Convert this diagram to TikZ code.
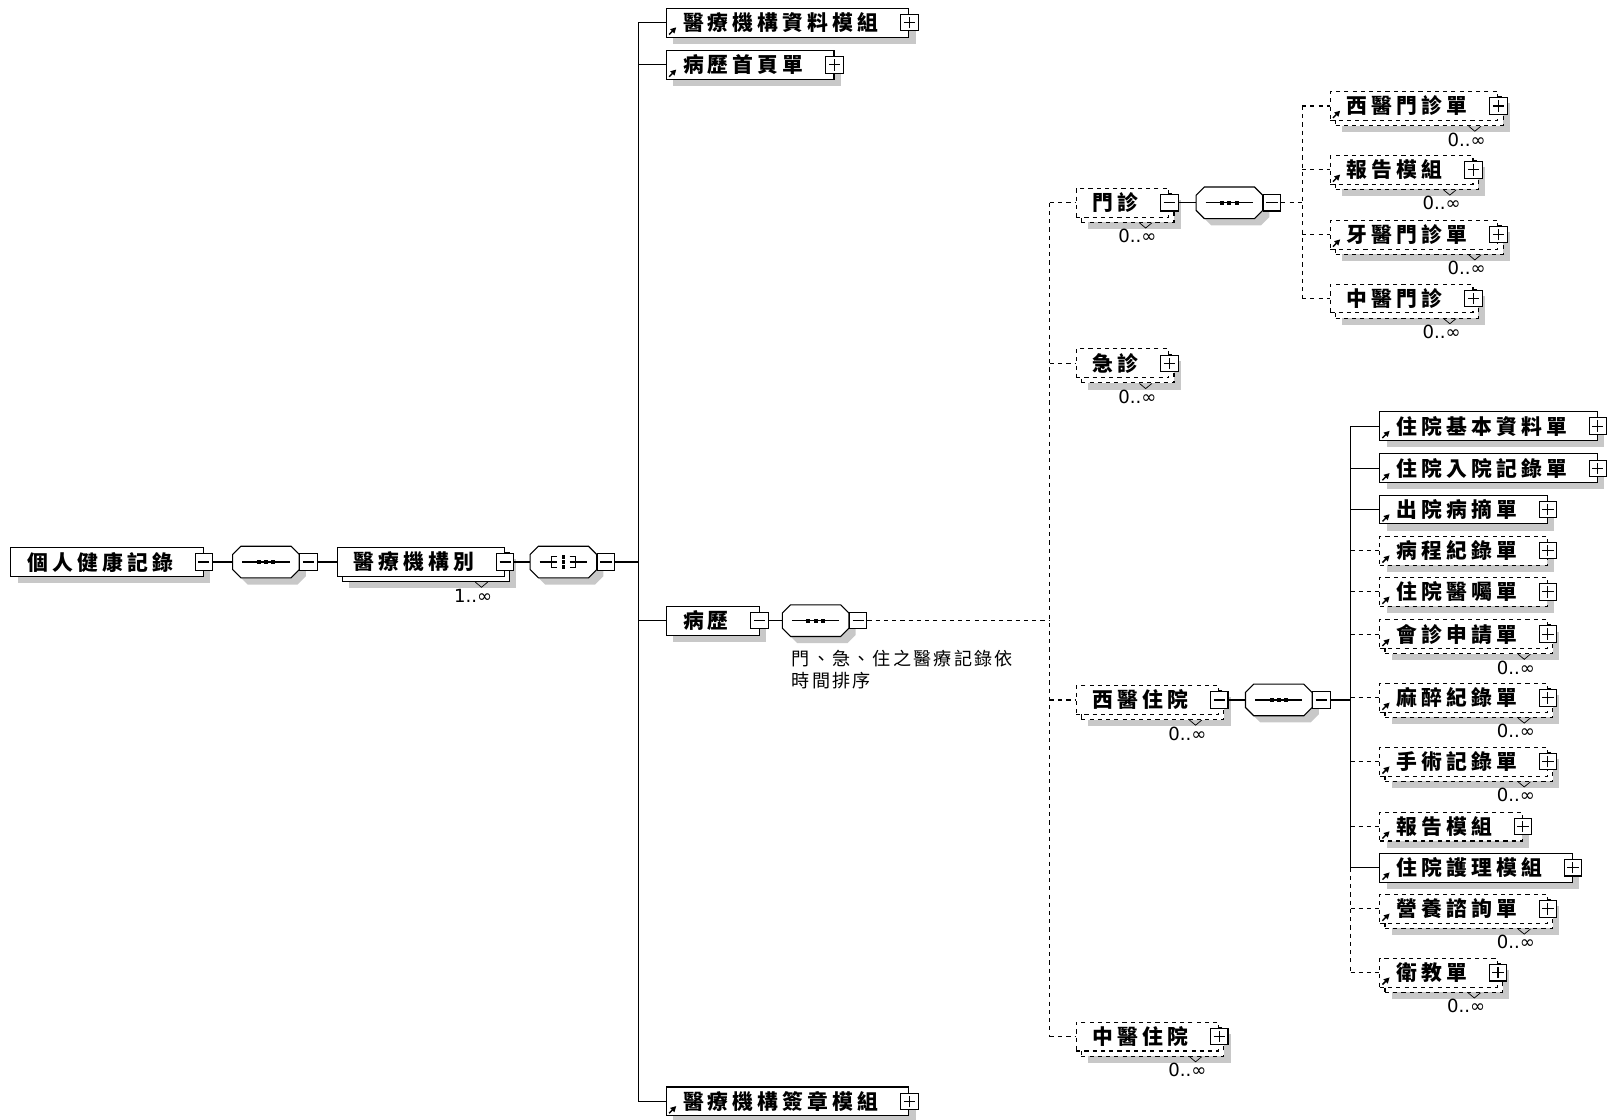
\documentclass[tikz,border=0pt]{standalone}
\usepackage{fontspec}
\newfontfamily\cjkbold{Noto Sans CJK TC}[LetterSpace=20]
\newfontfamily\cjknote{Noto Sans CJK TC}[LetterSpace=12]
\newfontfamily\multfont{DejaVu Sans}
\usetikzlibrary{positioning,arrows.meta,shadows}
\definecolor{ShadowGray}{RGB}{200,200,200}
\tikzset{
  wire/.style={line width=.6pt},
  owire/.style={wire,dash pattern=on .8mm off .8mm},
  el/.style={draw,line width=.6pt,fill=white,anchor=west,minimum height=5.6mm,
    inner ysep=0pt,inner xsep=3.2mm,execute at end node={\hspace{2.7mm}},
    font=\cjkbold\bfseries\fontsize{11.5}{13}\selectfont},
  one/.style={el,general shadow={shadow xshift=1.3mm,shadow yshift=-1.3mm,fill=ShadowGray}},
  oneopt/.style={one,dash pattern=on .8mm off .8mm},
  many/.style={el,general shadow={shadow xshift=2.3mm,shadow yshift=-2.3mm,fill=ShadowGray},
    general shadow={shadow xshift=1mm,shadow yshift=-1mm,fill=white,draw=black,line width=.6pt}},
  manyopt/.style={el,dash pattern=on .8mm off .8mm,
    general shadow={shadow xshift=2.3mm,shadow yshift=-2.3mm,fill=ShadowGray},
    general shadow={shadow xshift=1mm,shadow yshift=-1mm,fill=white,draw=black,line width=.6pt,dash pattern=on .8mm off .8mm}},
  grp/.style={rectangle,anchor=west,minimum width=12.8mm,minimum height=6mm,inner sep=0pt},
  grpshadow/.style={fill=ShadowGray,transform canvas={shift={(1.3mm,-1.3mm)}}},
  grpframe/.style={fill=white,draw=black,line width=.6pt},
  tgl/.style={draw,fill=white,line width=.6pt,minimum width=3.4mm,minimum height=3.2mm,inner sep=0pt},
  minusbox/.style={tgl,path picture={
    \draw[line width=.6pt] ([xshift=-1.1mm]path picture bounding box.center) -- ([xshift=1.1mm]path picture bounding box.center);}},
  plusbox/.style={tgl,path picture={
    \draw[line width=.6pt] ([xshift=-1.1mm]path picture bounding box.center) -- ([xshift=1.1mm]path picture bounding box.center)
      ([yshift=-1.1mm]path picture bounding box.center) -- ([yshift=1.1mm]path picture bounding box.center);}},
  refarr/.style={line width=.8pt,-{Triangle[length=1.1mm,width=1.1mm]}},
  notch/.style={line width=.4pt},
  multlbl/.style={font=\multfont\fontsize{10}{12}\selectfont,inner sep=0pt},
  note/.style={font=\cjknote\fontsize{10}{12.5}\selectfont,align=left,inner sep=0pt},
}
% small decorations of the element boxes
\newcommand\refmark[1]{\draw[refarr] ([shift={(3,-3)}]#1.south west) -- ++(7,-7);}
\newcommand\mult[2]{\draw[notch] ([shift={(-29,5)}]#1.south east) -- ++(6,5) -- ++(6,-5);
  \node[multlbl] (#1-m) at ([shift={(-31,18)}]#1.south east) {#2};}
% octagon frame of a group node, with its shadow
\newcommand\octagon[1]{%
  \foreach \st in {grpshadow,grpframe}
    \path[\st] ([xshift=1.6mm]#1.north west) -- ([xshift=-1.6mm]#1.north east) -- ([yshift=-1.6mm]#1.north east)
      -- ([yshift=1.6mm]#1.south east) -- ([xshift=-1.6mm]#1.south east) -- ([xshift=1.6mm]#1.south west)
      -- ([yshift=1.6mm]#1.south west) -- ([yshift=-1.6mm]#1.north west) -- cycle;}
\newcommand\seqicon[1]{\octagon{#1}
  \draw[line width=.6pt] ([xshift=-4.6mm]#1.center) -- ([xshift=4.6mm]#1.center);
  \foreach \dx in {-1.4,0,1.4}
    \fill ([shift={(\dx mm-.4mm,-.4mm)}]#1.center) rectangle ++(.8mm,.8mm);}
\newcommand\choiceicon[1]{\octagon{#1}
  \draw[line width=.6pt] ([xshift=-4.6mm]#1.center) -- ([xshift=-2.4mm]#1.center)
    ([shift={(-1.2mm,1mm)}]#1.center) -- ([shift={(-2.4mm,1mm)}]#1.center) -- ([shift={(-2.4mm,-1mm)}]#1.center) -- ([shift={(-1.2mm,-1mm)}]#1.center)
    ([xshift=-2.4mm]#1.center) -- ([xshift=-1.2mm]#1.center)
    ([shift={(1.2mm,1mm)}]#1.center) -- ([shift={(2.4mm,1mm)}]#1.center) -- ([shift={(2.4mm,-1mm)}]#1.center) -- ([shift={(1.2mm,-1mm)}]#1.center)
    ([xshift=1.2mm]#1.center) -- ([xshift=4.6mm]#1.center);
  \foreach \dy in {-1,0,1}
    \fill ([shift={(-.35mm,\dy mm-.35mm)}]#1.center) rectangle ++(.7mm,.7mm);}

\begin{document}
\begin{tikzpicture}[x=0.2mm,y=-0.2mm]
  \useasboundingbox (0,0) rectangle (1568,1088);

  % root and its sequence
  \node[one] (phr) at (10,546) {個人健康記錄};
  \node[minusbox] (phr-t) at (phr.east) {};
  \node[grp] (seq1) at (226,546) {}; \seqicon{seq1}
  \node[minusbox,right=0pt of seq1] (seq1-t) {};
  \node[many] (inst) at (327,546) {醫療機構別};
  \node[minusbox] (inst-t) at (inst.east) {};
  \mult{inst}{1..∞}
  \node[grp] (ch1) at (515,546) {}; \choiceicon{ch1}
  \node[minusbox,right=0pt of ch1] (ch1-t) {};
  \coordinate (bar1) at (620,546);
  \draw[wire] (phr-t) -- (seq1); \draw[wire] (seq1-t) -- (inst);
  \draw[wire] (inst-t) -- (ch1); \draw[wire] (ch1-t) -- (bar1);

  % choice branches
  \node[one] (instdata) at (647,22) {醫療機構資料模組};
  \node[one] (firstpage) at (647,63) {病歷首頁單};
  \node[one] (rec) at (647,603) {病歷};
  \node[one] (instsign) at (647,1070) {醫療機構簽章模組};
  \foreach \n in {instdata,firstpage,instsign} {
    \node[plusbox] (\n-t) at (\n.east) {};
    \refmark{\n}
  }
  \node[minusbox] (rec-t) at (rec.east) {};
  \draw[wire] (bar1 |- instdata.west) -- (bar1 |- instsign.west);
  \foreach \n in {instdata,firstpage,rec,instsign}
    \draw[wire] (\n.west -| bar1) -- (\n.west);

  % 病歷
  \node[grp] (seq2) at (760,603) {}; \seqicon{seq2}
  \node[minusbox,right=0pt of seq2] (seq2-t) {};
  \coordinate (bar2) at (1020,603);
  \draw[wire] (rec-t) -- (seq2); \draw[owire] (seq2-t) -- (bar2);
  \node[note,anchor=north west] (recnote) at (769,631) {門、急、住之醫療記錄依\\時間排序};

  \node[manyopt] (opd) at (1045,197) {門診};
  \node[manyopt] (er) at (1045,353) {急診};
  \node[manyopt] (wipd) at (1045,680) {西醫住院};
  \node[manyopt] (cipd) at (1045,1007) {中醫住院};
  \node[minusbox] (opd-t) at (opd.east) {};
  \node[plusbox] (er-t) at (er.east) {};
  \node[minusbox] (wipd-t) at (wipd.east) {};
  \node[plusbox] (cipd-t) at (cipd.east) {};
  \foreach \n in {opd,er,wipd,cipd} { \mult{\n}{0..∞} }
  \draw[owire] (bar2 |- opd.west) -- (bar2 |- cipd.west);
  \foreach \n in {opd,er,wipd,cipd}
    \draw[owire] (\n.west -| bar2) -- (\n.west);

  % 門診
  \node[grp] (seq3) at (1162,197) {}; \seqicon{seq3}
  \node[minusbox,right=0pt of seq3] (seq3-t) {};
  \coordinate (bar3) at (1265,197);
  \draw[wire] (opd-t) -- (seq3); \draw[owire] (seq3-t) -- (bar3);
  \node[manyopt] (wopd) at (1292,103) {西醫門診單};
  \node[manyopt] (rpt1) at (1292,165) {報告模組};
  \node[manyopt] (dopd) at (1292,228) {牙醫門診單};
  \node[manyopt] (copd) at (1292,290) {中醫門診};
  \foreach \n in {wopd,rpt1,dopd,copd} {
    \node[plusbox] (\n-t) at (\n.east) {};
    \mult{\n}{0..∞}
  }
  \foreach \n in {wopd,rpt1,dopd} { \refmark{\n} }
  \draw[owire] (bar3 |- wopd.west) -- (bar3 |- copd.west);
  \foreach \n in {wopd,rpt1,dopd,copd}
    \draw[owire] (\n.west -| bar3) -- (\n.west);

  % 西醫住院
  \node[grp] (seq4) at (1210,680) {}; \seqicon{seq4}
  \node[minusbox,right=0pt of seq4] (seq4-t) {};
  \coordinate (bar4) at (1312,680);
  \draw[wire] (wipd-t) -- (seq4); \draw[wire] (seq4-t) -- (bar4);
  \node[one] (ipbasic) at (1340,414) {住院基本資料單};
  \node[one] (ipadm) at (1340,455) {住院入院記錄單};
  \node[one] (dissum) at (1340,495) {出院病摘單};
  \node[oneopt] (progress) at (1340,535) {病程紀錄單};
  \node[oneopt] (orders) at (1340,575) {住院醫囑單};
  \node[manyopt] (consult) at (1340,616) {會診申請單};
  \node[manyopt] (anesth) at (1340,678) {麻醉紀錄單};
  \node[manyopt] (surgery) at (1340,740) {手術記錄單};
  \node[oneopt] (rpt2) at (1340,803) {報告模組};
  \node[one] (nursing) at (1340,843) {住院護理模組};
  \node[manyopt] (nutri) at (1340,883) {營養諮詢單};
  \node[manyopt] (edu) at (1340,945) {衛教單};
  \foreach \n in {ipbasic,ipadm,dissum,progress,orders,consult,anesth,surgery,rpt2,nursing,nutri,edu} {
    \node[plusbox] (\n-t) at (\n.east) {};
    \refmark{\n}
  }
  \foreach \n in {consult,anesth,surgery,nutri,edu} { \mult{\n}{0..∞} }
  \draw[wire] (bar4 |- ipbasic.west) -- (bar4 |- nursing.west);
  \draw[owire] (bar4 |- nursing.west) -- (bar4 |- edu.west);
  \foreach \n in {ipbasic,ipadm,dissum,nursing}
    \draw[wire] (\n.west -| bar4) -- (\n.west);
  \foreach \n in {progress,orders,consult,anesth,surgery,rpt2,nutri,edu}
    \draw[owire] (\n.west -| bar4) -- (\n.west);
\end{tikzpicture}
\end{document}
